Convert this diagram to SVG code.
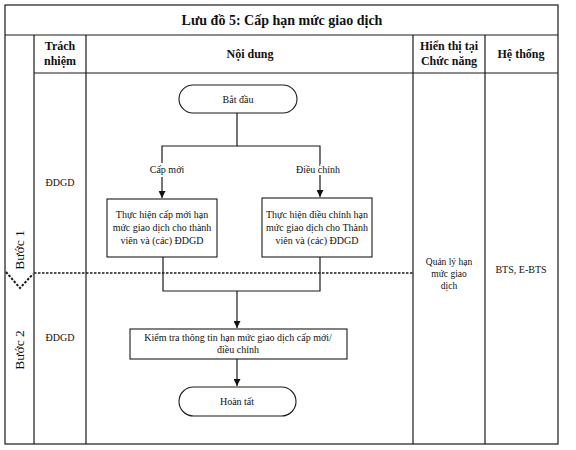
<svg xmlns="http://www.w3.org/2000/svg" width="576" height="450" viewBox="0 0 576 450">
<defs>
<style>
.ln{stroke:#1a1a1a;stroke-width:1.2;fill:none}
.bx{stroke:#1a1a1a;stroke-width:1.1;fill:#fff}
.t{font-family:"Liberation Serif","Times New Roman",serif;fill:#111;text-anchor:middle}
.h{font-size:12px;font-weight:bold}
.s{font-size:10px}
.lbl{paint-order:stroke;stroke:#fff;stroke-width:4px}
.ds{stroke:#1a1a1a;stroke-width:1.3;fill:none;stroke-dasharray:2.5 1.5}
</style>
<marker id="ar" viewBox="0 0 10 10" refX="10" refY="5" markerWidth="7" markerHeight="7" orient="auto" markerUnits="userSpaceOnUse">
<path d="M0,0 L10,5 L0,10 z" fill="#111"/>
</marker>
</defs>
<rect width="576" height="450" fill="#fff"/>
<g id="frame">
<rect x="5" y="5" width="553" height="439" class="ln"/>
<line x1="5" y1="35" x2="558" y2="35" class="ln"/>
<line x1="34" y1="73" x2="558" y2="73" class="ln"/>
<line x1="34" y1="35" x2="34" y2="444" class="ln"/>
<line x1="86" y1="35" x2="86" y2="444" class="ln"/>
<line x1="413" y1="35" x2="413" y2="444" class="ln"/>
<line x1="485" y1="35" x2="485" y2="444" class="ln"/>
<text x="282" y="25" class="t" style="font-size:14px;font-weight:bold">Lưu đồ 5: Cấp hạn mức giao dịch</text>
<text x="60" y="50" class="t h">Trách</text>
<text x="60" y="65" class="t h">nhiệm</text>
<text x="250" y="58" class="t h">Nội dung</text>
<text x="449" y="50" class="t h">Hiển thị tại</text>
<text x="449" y="65" class="t h">Chức năng</text>
<text x="521" y="58" class="t h">Hệ thống</text>
</g>
<g id="steps">
<line x1="34" y1="273" x2="413" y2="273" class="ds"/>
<polyline points="6,272 20,288 33,274" class="ds" style="stroke-width:2"/>
<text transform="translate(24,250) rotate(-90)" class="t" style="font-size:13.5px">Bước 1</text>
<text transform="translate(24,350) rotate(-90)" class="t" style="font-size:13.5px">Bước 2</text>
<text x="60" y="186" class="t s">ĐDGD</text>
<text x="60" y="341" class="t s">ĐDGD</text>
<text x="449" y="265" class="t" style="font-size:9.5px">Quản lý hạn</text>
<text x="449" y="277" class="t" style="font-size:9.5px">mức giao</text>
<text x="449" y="289" class="t" style="font-size:9.5px">dịch</text>
<text x="521" y="273" class="t s">BTS, E-BTS</text>
</g>
<g id="connectors">
<polyline points="237,113 237,146 162,146 162,198" class="ln" marker-end="url(#ar)"/>
<polyline points="237,146 320,146 320,197" class="ln" marker-end="url(#ar)"/>
<polyline points="163,257 163,291 320,291 320,257" class="ln"/>
<line x1="237" y1="291" x2="237" y2="328" class="ln" marker-end="url(#ar)"/>
<line x1="237" y1="359" x2="237" y2="386" class="ln" marker-end="url(#ar)"/>
<text x="167" y="173" class="t s lbl">Cấp mới</text>
<text x="318" y="173" class="t s lbl">Điều chỉnh</text>
</g>
<g id="start">
<rect x="179" y="85" width="118" height="28" rx="14" class="bx"/>
<text x="238" y="103" class="t s">Bắt đầu</text>
</g>
<g id="new">
<rect x="107" y="199" width="110" height="58" class="bx"/>
<text x="162" y="218" class="t s">Thực hiện cấp mới hạn</text>
<text x="162" y="231" class="t s">mức giao dịch cho thành</text>
<text x="162" y="244" class="t s">viên và (các) ĐDGD</text>
</g>
<g id="adjust">
<rect x="262" y="198" width="110" height="59" class="bx"/>
<text x="317" y="218" class="t s">Thực hiện điều chỉnh hạn</text>
<text x="317" y="231" class="t s">mức giao dịch cho Thành</text>
<text x="317" y="244" class="t s">viên và (các) ĐDGD</text>
</g>
<g id="check">
<rect x="130" y="329" width="217" height="30" class="bx"/>
<text x="238" y="341" class="t s">Kiểm tra thông tin hạn mức giao dịch cấp mới/</text>
<text x="238" y="353" class="t s">điều chỉnh</text>
</g>
<g id="end">
<rect x="179" y="387" width="117" height="29" rx="14.5" class="bx"/>
<text x="237" y="405" class="t s">Hoàn tất</text>
</g>
</svg>
